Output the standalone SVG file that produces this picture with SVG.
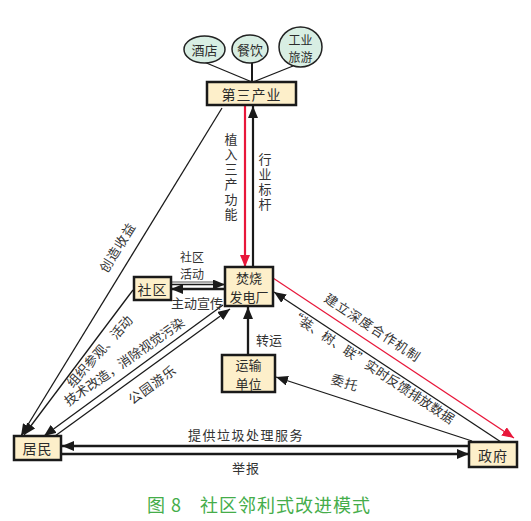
<svg xmlns="http://www.w3.org/2000/svg" width="531" height="521" viewBox="0 0 531 521">
<defs>
<marker id="ah" viewBox="0 0 12 10" refX="12" refY="5" markerWidth="12" markerHeight="10" markerUnits="userSpaceOnUse" orient="auto"><path d="M0,0 L12,5 L0,10 z" fill="#1a1a1a"/></marker>
<marker id="ahr" viewBox="0 0 12 10" refX="12" refY="5" markerWidth="12" markerHeight="10" markerUnits="userSpaceOnUse" orient="auto"><path d="M0,0 L12,5 L0,10 z" fill="#e8173a"/></marker>
<style>
.box{fill:#fdefca;stroke:#1a1a1a;stroke-width:2.5}
.ell{fill:#d8eee3;stroke:#222;stroke-width:1.5}
.t{font-family:"Noto Sans CJK SC","Noto Sans CJK JP",sans-serif;font-size:14px;fill:#2b2b2b;text-anchor:middle;dominant-baseline:central}
.l{font-family:"Noto Sans CJK SC","Noto Sans CJK JP",sans-serif;font-size:13px;fill:#333;text-anchor:middle;dominant-baseline:central}
.v{font-family:"Noto Sans CJK SC","Noto Sans CJK JP",sans-serif;font-size:13px;fill:#333;writing-mode:vertical-rl;letter-spacing:2px}
.ln{fill:none;stroke:#1a1a1a;stroke-width:1.3}
.th{fill:none;stroke:#1a1a1a;stroke-width:2.3}
.red{fill:none;stroke:#e8173a}
.cap{font-family:"Noto Sans CJK SC","Noto Sans CJK JP",sans-serif;font-size:18px;fill:#45ad4a;text-anchor:middle;letter-spacing:1px}
</style>
</defs>
<rect width="531" height="521" fill="#ffffff"/>

<g id="connectors">
  <line class="ln" x1="204" y1="62" x2="252" y2="82"/>
  <line class="th" x1="252" y1="63" x2="252" y2="82" style="stroke-width:2"/>
  <line class="ln" x1="293" y1="66" x2="253" y2="82"/>
  <line class="red" style="stroke-width:2.2" x1="245" y1="106" x2="245" y2="267" marker-end="url(#ahr)"/>
  <line class="th" style="stroke-width:2.2" x1="253" y1="267" x2="253" y2="106" marker-end="url(#ah)"/>
  <line class="ln" x1="222" y1="108" x2="21" y2="436" marker-end="url(#ah)"/>
  <line class="ln" x1="133" y1="290" x2="24" y2="435" marker-end="url(#ah)"/>
  <line class="ln" x1="223" y1="305" x2="44" y2="436" marker-end="url(#ah)"/>
  <line class="ln" x1="55" y1="436" x2="230" y2="309" marker-end="url(#ah)"/>
  <line class="ln" x1="172" y1="282" x2="215" y2="282" style="stroke:#555;stroke-width:1"/>
  <line class="ln" x1="172" y1="284.5" x2="225" y2="284.5" marker-end="url(#ah)"/>
  <line class="th" x1="225" y1="289" x2="171" y2="289" marker-end="url(#ah)"/>
  <line class="th" x1="248" y1="355" x2="248" y2="307" marker-end="url(#ah)"/>
  <line class="red" style="stroke-width:1.2" x1="273" y1="278" x2="514" y2="438" marker-end="url(#ahr)"/>
  <line class="ln" x1="501" y1="442" x2="274" y2="292" marker-end="url(#ah)"/>
  <line class="ln" x1="472" y1="441" x2="276" y2="377" marker-end="url(#ah)"/>
  <line class="th" x1="469" y1="446" x2="62" y2="446" marker-end="url(#ah)"/>
  <line class="th" x1="62" y1="454" x2="469" y2="454" marker-end="url(#ah)"/>
</g>

<g id="labels">
  <text class="v" x="231" y="133">植入三产功能</text>
  <text class="v" x="265" y="153">行业标杆</text>
  <text class="l" style="font-size:12px"><tspan x="192" y="255.5">社区</tspan><tspan x="192" y="273">活动</tspan></text>
  <text class="l" x="197" y="302">主动宣传</text>
  <text class="l" x="269" y="339">转运</text>
  <text class="l" transform="translate(117,247) rotate(-58.4)" style="letter-spacing:1px">创造收益</text>
  <text class="l" transform="translate(99,351) rotate(-48)">组织参观、活动</text>
  <text class="l" transform="translate(124,361) rotate(-35)">技术改造，消除视觉污染</text>
  <text class="l" transform="translate(152,384) rotate(-36)" style="letter-spacing:1px">公园游乐</text>
  <text class="l" transform="translate(373,327) rotate(33.5)" style="letter-spacing:1px">建立深度合作机制</text>
  <text class="l" transform="translate(372,366) rotate(33.5)">“装、树、联”实时反馈排放数据</text>
  <text class="l" transform="translate(345,382) rotate(17)" style="letter-spacing:1px">委托</text>
  <text class="l" x="246" y="434" style="letter-spacing:1.5px">提供垃圾处理服务</text>
  <text class="l" x="246" y="467" style="letter-spacing:1px">举报</text>
</g>

<g id="n-jiudian"><ellipse class="ell" cx="204.5" cy="49.5" rx="20.5" ry="13.5"/><text class="t" x="204.5" y="49.5" style="font-size:13px">酒店</text></g>
<g id="n-canyin"><ellipse class="ell" cx="250" cy="49" rx="18" ry="14"/><text class="t" x="250" y="49" style="font-size:13px">餐饮</text></g>
<g id="n-gongye"><ellipse class="ell" cx="300.5" cy="47" rx="21.5" ry="20"/><text class="t" style="font-size:12px"><tspan x="300.5" y="38.5">工业</tspan><tspan x="300.5" y="56">旅游</tspan></text></g>
<g id="n-sanchan"><rect class="box" x="207" y="82" width="89" height="23"/><text class="t" x="251.5" y="93.5" style="letter-spacing:1px">第三产业</text></g>
<g id="n-fenshao"><rect class="box" x="225" y="267" width="48" height="39"/><text class="t" style="font-size:13px"><tspan x="249" y="277.3">焚烧</tspan><tspan x="249" y="296.3">发电厂</tspan></text></g>
<g id="n-shequ"><rect class="box" x="134" y="277" width="37" height="23"/><text class="t" x="152.5" y="288.5" style="letter-spacing:1px">社区</text></g>
<g id="n-yunshu"><rect class="box" x="222" y="355" width="53" height="37"/><text class="t" style="font-size:13px"><tspan x="248.5" y="364">运输</tspan><tspan x="248.5" y="383">单位</tspan></text></g>
<g id="n-jumin"><rect class="box" x="14" y="436" width="47" height="24"/><text class="t" x="37.5" y="448" style="letter-spacing:1px">居民</text></g>
<g id="n-zhengfu"><rect class="box" x="469" y="442" width="48" height="25"/><text class="t" x="493" y="454.5" style="letter-spacing:1px">政府</text></g>

<text class="cap" x="259" y="512">图 8<tspan dx="18">社区邻利式改进模式</tspan></text>
</svg>
